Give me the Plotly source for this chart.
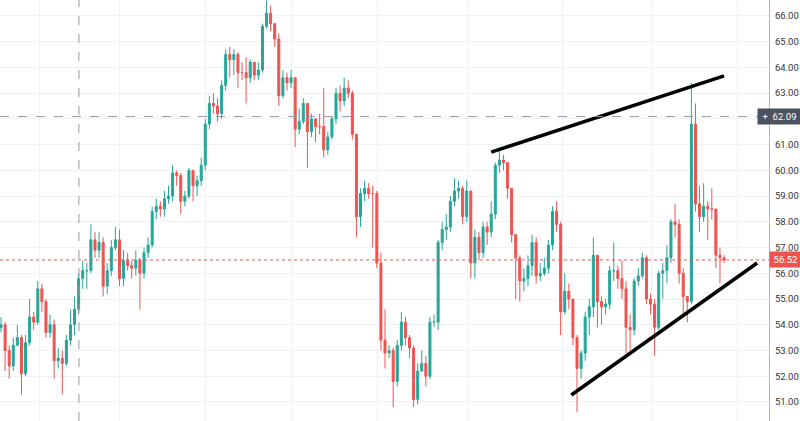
import plotly.graph_objects as go

closes = [54.0,53.0,52.4,53.2,53.5,52.1,53.3,54.3,54.1,55.4,54.9,53.7,54.0,52.6,52.7,52.5,53.4,54.0,54.6,55.8,
          56.1,56.1,57.3,56.9,57.2,55.5,56.1,57.0,57.3,55.8,56.5,56.3,56.2,56.5,56.0,56.8,57.1,58.4,58.6,58.5,
          58.9,59.0,59.9,59.8,58.8,59.0,60.0,59.4,59.6,60.2,61.8,62.6,62.5,62.2,63.3,64.5,64.3,64.5,63.8,63.8,
          63.6,64.2,63.7,63.9,65.6,66.1,65.7,65.1,62.9,63.6,63.4,63.6,61.6,61.9,62.6,61.5,62.0,61.7,61.7,60.8,
          61.3,62.0,63.0,62.7,63.2,63.0,61.4,58.2,59.1,59.3,59.1,59.1,56.4,53.4,52.9,53.0,51.8,53.2,54.1,53.5,
          53.1,51.1,52.2,52.5,52.0,54.1,54.1,57.2,57.7,57.8,58.8,59.2,59.3,58.2,59.2,56.4,57.4,56.8,57.8,57.6,
          58.3,60.2,60.4,60.3,59.3,57.5,56.6,55.7,55.8,56.3,57.2,55.9,56.0,56.2,57.1,58.4,57.9,54.5,55.3,55.0,
          53.5,52.3,52.9,54.3,54.7,56.7,54.9,54.7,54.8,56.1,56.1,55.8,55.4,53.9,53.8,55.7,55.9,56.6,55.0,54.8,
          53.9,56.0,56.1,56.6,58.0,57.9,56.0,55.1,54.9,61.8,58.7,58.2,58.6,58.5,58.5,56.7,56.6,56.52]
opens = [53.9] + closes[:-1]
highs = [54.3,54.1,53.2,53.5,54.0,53.6,53.6,55.0,54.5,55.7,55.6,55.0,54.4,54.2,53.1,53.0,53.6,54.6,55.1,56.0,
         56.5,56.4,57.9,57.6,57.6,57.4,56.4,57.3,57.8,57.7,56.9,56.8,56.5,56.9,56.6,57.0,57.4,58.6,58.9,58.8,
         59.2,59.4,60.2,60.0,59.9,59.2,60.1,60.0,59.8,60.5,62.0,62.9,63.0,62.8,63.5,64.7,64.8,64.7,64.6,64.2,
         64.4,64.3,64.2,64.2,65.7,66.6,66.4,65.4,65.3,63.9,63.8,63.9,63.6,62.4,62.8,62.6,62.2,62.0,62.2,63.2,
         61.5,62.1,63.2,63.3,63.6,63.5,63.1,61.4,59.3,59.6,59.5,59.4,59.2,56.8,54.6,53.2,53.1,53.4,54.5,54.3,
         53.6,53.2,52.5,53.0,52.8,54.3,54.4,57.3,58.0,58.3,59.0,59.7,59.6,59.4,59.6,59.2,57.7,57.6,58.0,58.0,
         58.8,60.3,60.8,60.6,60.3,59.3,57.4,56.7,56.2,56.7,57.5,57.4,56.4,56.6,57.3,58.6,58.8,58.0,56.0,55.6,
         55.0,53.6,53.0,54.5,55.0,57.4,56.7,55.1,55.0,56.3,57.2,56.3,56.5,55.7,54.4,55.8,56.2,56.8,56.7,55.2,
         55.0,56.1,56.4,57.1,58.1,58.7,58.1,56.2,55.1,63.4,62.6,59.4,59.5,58.8,59.3,58.5,57.0,56.7]
lows = [53.7,52.2,51.9,52.2,53.2,51.3,52.0,53.2,53.8,54.0,54.5,53.5,53.5,51.9,52.3,51.3,52.4,53.2,53.6,54.4,
        55.4,55.4,56.0,56.6,56.6,55.1,55.2,55.9,56.9,55.5,55.5,56.1,55.8,55.9,54.6,55.8,56.6,57.0,58.1,58.2,
        58.2,58.7,58.8,59.4,58.3,58.6,58.9,58.8,59.0,59.4,60.0,61.6,62.2,61.9,62.0,63.1,63.6,63.7,63.2,63.5,
        62.6,63.4,63.5,63.5,63.8,65.5,65.4,64.8,62.5,62.8,63.1,63.2,60.9,61.4,61.8,60.1,61.3,61.1,61.4,60.5,
        60.6,61.2,61.8,62.3,62.5,62.8,61.2,57.4,57.8,58.8,58.9,57.0,56.2,53.0,52.3,52.7,50.8,51.6,53.0,53.2,
        52.7,50.8,50.9,52.2,51.6,51.9,53.9,53.8,56.9,57.3,57.6,58.6,58.9,57.9,58.0,55.8,55.8,56.5,56.6,57.1,
        57.4,58.1,59.9,60.0,58.9,57.2,55.0,54.9,55.3,55.5,55.9,55.6,55.7,55.9,56.0,56.9,57.6,53.6,54.4,54.6,
        53.2,50.6,51.9,52.6,53.6,54.3,53.9,54.0,54.4,54.6,55.7,55.4,55.0,52.9,53.0,53.6,55.5,55.8,54.8,54.4,
        52.8,53.8,55.0,55.6,56.4,57.4,55.6,54.3,54.1,54.8,58.4,57.6,58.0,57.3,58.1,56.2,55.6,56.4]

n = len(closes)
idx = list(range(n))
grid_x = [9.3, 29.1, 50.1, 71.1, 92.2, 114.2, 137.4, 159.2, 180.2]
y_ticks = [51,52,53,54,55,56,57,58,59,60,61,62,63,64,65,66]
last_price = 56.52
cross_price = 62.09
cross_x = 19.07
upper_line = [(120.0, 60.71), (177.0, 63.67)]
lower_line = [(139.6, 51.27), (185.1, 56.40)]

GREEN, RED = "#26a69a", "#ef5350"
fig = go.Figure(go.Candlestick(
    x=idx, open=opens, high=highs, low=lows, close=closes,
    increasing=dict(line=dict(color=GREEN, width=1), fillcolor=GREEN),
    decreasing=dict(line=dict(color=RED, width=1), fillcolor=RED),
    whiskerwidth=0, showlegend=False, hoverinfo="skip"))

for (a, b) in [upper_line, lower_line]:
    fig.add_shape(type="line", x0=a[0], y0=a[1], x1=b[0], y1=b[1],
                  line=dict(color="black", width=3.5))
fig.add_shape(type="line", xref="paper", x0=0, x1=1, y0=last_price, y1=last_price,
              line=dict(color=RED, width=1, dash="dot"))
fig.add_shape(type="line", xref="paper", x0=0, x1=1, y0=cross_price, y1=cross_price,
              line=dict(color="#9598a1", width=1, dash="dash"))
fig.add_shape(type="line", yref="paper", y0=0, y1=1, x0=cross_x, x1=cross_x,
              line=dict(color="#9598a1", width=1, dash="dash"))

fig.add_annotation(xref="paper", x=1.0, y=last_price, text="%.2f" % last_price, showarrow=False,
                   xanchor="left", bgcolor=RED, font=dict(color="white", size=9.5, family="Roboto"),
                   borderpad=2, width=27)
fig.add_annotation(xref="paper", x=1.0, xshift=-12, y=cross_price, text="+  %.2f" % cross_price,
                   showarrow=False, xanchor="left", bgcolor="#4c525e",
                   font=dict(color="white", size=9.5, family="Roboto"), borderpad=2, width=39)

fig.update_layout(
    width=800, height=421, margin=dict(l=0, r=31, t=0, b=0, autoexpand=False),
    plot_bgcolor="white", paper_bgcolor="white",
    xaxis=dict(range=[-0.25, 188], rangeslider=dict(visible=False), tickvals=grid_x,
               showticklabels=False, showgrid=True, gridcolor="#eef1f6", zeroline=False, ticks=""),
    yaxis=dict(side="right", range=[50.26, 66.62], tickvals=y_ticks,
               ticktext=["%.2f" % v for v in y_ticks], showgrid=True, gridcolor="#eef1f6",
               zeroline=False, showline=True, linecolor="#b2b5be", ticks="", ticklabelstandoff=3,
               tickfont=dict(size=9.5, color="#333", family="Roboto")),
)
fig.write_html("out.html", config={"displayModeBar": False},
               post_script="document.body.style.margin='0';document.body.style.overflow='hidden';")
